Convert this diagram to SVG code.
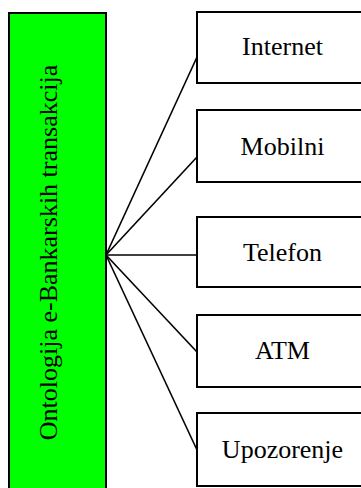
<svg xmlns="http://www.w3.org/2000/svg" width="361" height="488" viewBox="0 0 361 488">
<style>
.box{fill:#fff;stroke:#000;stroke-width:2}
.root{fill:#00ff00;stroke:#000;stroke-width:2}
.lbl{font-family:"Liberation Serif","Times New Roman",serif;font-size:26px;fill:#000;text-anchor:middle}
.conn line{stroke:#000;stroke-width:1.6}
</style>
<rect width="361" height="488" fill="#fff"/>
<g id="root">
<rect class="root" x="9" y="13" width="97" height="490"/>
<text class="lbl" transform="translate(57,252.5) rotate(-90)">Ontologija e-Bankarskih transakcija</text>
</g>
<g id="connectors" class="conn">
<line x1="106" y1="255" x2="197" y2="57"/>
<line x1="106" y1="255" x2="197" y2="157"/>
<line x1="106" y1="255" x2="197" y2="255"/>
<line x1="106" y1="255" x2="197" y2="352"/>
<line x1="106" y1="255" x2="197" y2="450"/>
</g>
<g id="internet">
<rect class="box" x="197" y="12" width="170" height="71"/>
<text class="lbl" x="282.5" y="55">Internet</text>
</g>
<g id="mobilni">
<rect class="box" x="197" y="110" width="170" height="72"/>
<text class="lbl" x="282.5" y="155">Mobilni</text>
</g>
<g id="telefon">
<rect class="box" x="197" y="217" width="170" height="70"/>
<text class="lbl" x="282.5" y="261">Telefon</text>
</g>
<g id="atm">
<rect class="box" x="197" y="315" width="170" height="72"/>
<text class="lbl" x="282.5" y="359">ATM</text>
</g>
<g id="upozorenje">
<rect class="box" x="197" y="413" width="170" height="73"/>
<text class="lbl" x="282.5" y="458">Upozorenje</text>
</g>
</svg>
